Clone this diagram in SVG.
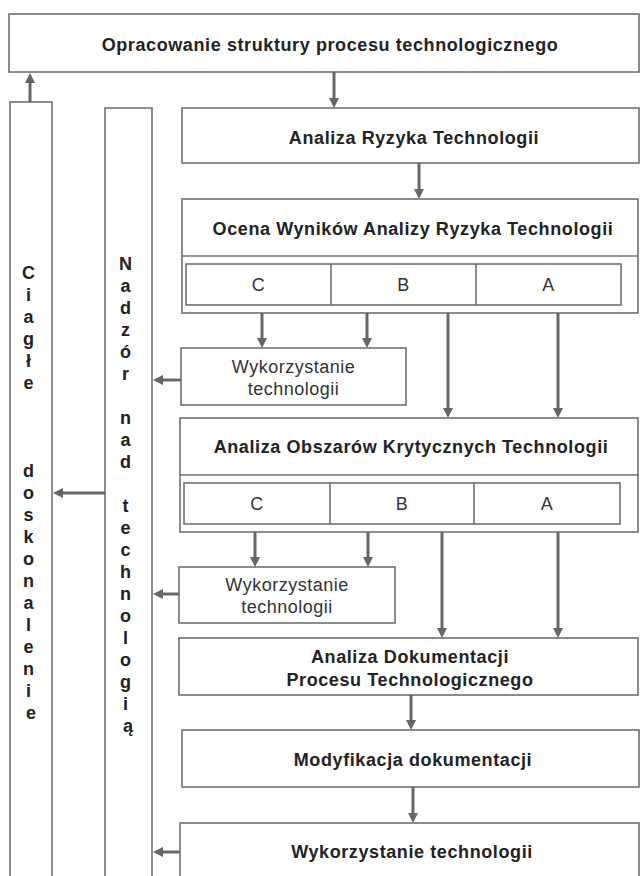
<svg xmlns="http://www.w3.org/2000/svg" width="640" height="876" viewBox="0 0 640 876">
  <style>
    .box { fill: #ffffff; stroke: #707070; stroke-width: 1.6; }
    .cell { fill: #ffffff; stroke: #707070; stroke-width: 1.6; }
    .title { font-family: "Liberation Sans", Arial, sans-serif; font-size: 18px; font-weight: bold; fill: #222222; text-anchor: middle; letter-spacing: 0.6px; }
    .plain { font-family: "Liberation Sans", Arial, sans-serif; font-size: 18px; fill: #333333; text-anchor: middle; letter-spacing: 0.5px; }
    .vert { font-family: "Liberation Sans", Arial, sans-serif; font-size: 18px; font-weight: bold; fill: #222222; text-anchor: middle; }
    .conn { fill: none; stroke: #666666; stroke-width: 3; marker-end: url(#head); }
  </style>
  <defs>
    <marker id="head" markerUnits="userSpaceOnUse" markerWidth="11" markerHeight="11" refX="6" refY="5" orient="auto">
      <path d="M0,0 L10,5 L0,10 z" fill="#666666"/>
    </marker>
  </defs>
  <rect width="640" height="876" fill="#ffffff"/>

  <!-- top process box -->
  <g id="struktura">
    <rect class="box" x="9" y="14" width="630" height="58"/>
    <text class="title" x="330" y="51">Opracowanie struktury procesu technologicznego</text>
  </g>

  <!-- left vertical column: continuous improvement -->
  <g id="doskonalenie">
    <rect class="box" x="10" y="102" width="42" height="790"/>
    <text class="vert">
      <tspan x="31" y="279">C</tspan>
      <tspan x="31" y="301">i</tspan>
      <tspan x="31" y="323">a</tspan>
      <tspan x="31" y="345">g</tspan>
      <tspan x="31" y="367">ł</tspan>
      <tspan x="31" y="389">e</tspan>
      <tspan x="31" y="477">d</tspan>
      <tspan x="31" y="499">o</tspan>
      <tspan x="31" y="521">s</tspan>
      <tspan x="31" y="543">k</tspan>
      <tspan x="31" y="565">o</tspan>
      <tspan x="31" y="587">n</tspan>
      <tspan x="31" y="609">a</tspan>
      <tspan x="31" y="631">l</tspan>
      <tspan x="31" y="653">e</tspan>
      <tspan x="31" y="675">n</tspan>
      <tspan x="31" y="697">i</tspan>
      <tspan x="31" y="719">e</tspan>
    </text>
  </g>

  <!-- second vertical column: supervision -->
  <g id="nadzor">
    <rect class="box" x="105" y="108" width="47" height="790"/>
    <text class="vert">
      <tspan x="128" y="269.5">N</tspan>
      <tspan x="128" y="291.5">a</tspan>
      <tspan x="128" y="313.5">d</tspan>
      <tspan x="128" y="335.5">z</tspan>
      <tspan x="128" y="357.5">ó</tspan>
      <tspan x="128" y="379.5">r</tspan>
      <tspan x="128" y="423.5">n</tspan>
      <tspan x="128" y="445.5">a</tspan>
      <tspan x="128" y="467.5">d</tspan>
      <tspan x="128" y="511.5">t</tspan>
      <tspan x="128" y="533.5">e</tspan>
      <tspan x="128" y="555.5">c</tspan>
      <tspan x="128" y="577.5">h</tspan>
      <tspan x="128" y="599.5">n</tspan>
      <tspan x="128" y="621.5">o</tspan>
      <tspan x="128" y="643.5">l</tspan>
      <tspan x="128" y="665.5">o</tspan>
      <tspan x="128" y="687.5">g</tspan>
      <tspan x="128" y="709.5">i</tspan>
      <tspan x="128" y="731.5">ą</tspan>
    </text>
  </g>

  <g id="analiza-ryzyka">
    <rect class="box" x="182" y="108" width="457" height="55"/>
    <text class="title" x="414" y="144">Analiza Ryzyka Technologii</text>
  </g>

  <g id="ocena">
    <rect class="box" x="182" y="199" width="456" height="114"/>
    <line x1="182" y1="256" x2="638" y2="256" stroke="#707070" stroke-width="1.6"/>
    <text class="title" x="413" y="235">Ocena Wyników Analizy Ryzyka Technologii</text>
    <rect class="cell" x="186" y="264" width="435" height="41"/>
    <line x1="331" y1="264" x2="331" y2="305" stroke="#707070" stroke-width="1.6"/>
    <line x1="476" y1="264" x2="476" y2="305" stroke="#707070" stroke-width="1.6"/>
    <text class="plain" x="258.5" y="291">C</text>
    <text class="plain" x="403.5" y="291">B</text>
    <text class="plain" x="548.5" y="291">A</text>
  </g>

  <g id="wykorzystanie-1">
    <rect class="box" x="181" y="348" width="225" height="57"/>
    <text class="plain" x="293.5" y="373">Wykorzystanie</text>
    <text class="plain" x="293.5" y="395">technologii</text>
  </g>

  <g id="obszary">
    <rect class="box" x="180" y="418" width="458" height="114"/>
    <line x1="180" y1="475" x2="638" y2="475" stroke="#707070" stroke-width="1.6"/>
    <text class="title" x="411" y="453">Analiza Obszarów Krytycznych Technologii</text>
    <rect class="cell" x="184" y="483" width="436" height="41"/>
    <line x1="330" y1="483" x2="330" y2="524" stroke="#707070" stroke-width="1.6"/>
    <line x1="474" y1="483" x2="474" y2="524" stroke="#707070" stroke-width="1.6"/>
    <text class="plain" x="257" y="510">C</text>
    <text class="plain" x="402" y="510">B</text>
    <text class="plain" x="547" y="510">A</text>
  </g>

  <g id="wykorzystanie-2">
    <rect class="box" x="179" y="567" width="216" height="56"/>
    <text class="plain" x="287" y="591">Wykorzystanie</text>
    <text class="plain" x="287" y="613">technologii</text>
  </g>

  <g id="dokumentacja">
    <rect class="box" x="179" y="638" width="459" height="57"/>
    <text class="title" x="410" y="663">Analiza Dokumentacji</text>
    <text class="title" x="410" y="686">Procesu Technologicznego</text>
  </g>

  <g id="modyfikacja">
    <rect class="box" x="182" y="730" width="457" height="57"/>
    <text class="title" x="413" y="766">Modyfikacja dokumentacji</text>
  </g>

  <g id="wykorzystanie-final">
    <rect class="box" x="180" y="823" width="459" height="70"/>
    <text class="title" x="412" y="858">Wykorzystanie technologii</text>
  </g>

  <!-- connectors -->
  <g id="connectors">
    <line class="conn" x1="334" y1="72" x2="334" y2="104"/>
    <line class="conn" x1="30" y1="102" x2="30" y2="77"/>
    <line class="conn" x1="419" y1="163" x2="419" y2="195"/>
    <line class="conn" x1="262" y1="313" x2="262" y2="344"/>
    <line class="conn" x1="367" y1="313" x2="367" y2="344"/>
    <line class="conn" x1="448" y1="313" x2="448" y2="414"/>
    <line class="conn" x1="558" y1="313" x2="558" y2="414"/>
    <line class="conn" x1="181" y1="380" x2="157" y2="380"/>
    <line class="conn" x1="105" y1="493" x2="57" y2="493"/>
    <line class="conn" x1="255" y1="532" x2="255" y2="563"/>
    <line class="conn" x1="368" y1="532" x2="368" y2="563"/>
    <line class="conn" x1="442" y1="532" x2="442" y2="634"/>
    <line class="conn" x1="558" y1="532" x2="558" y2="634"/>
    <line class="conn" x1="179" y1="594" x2="157" y2="594"/>
    <line class="conn" x1="411" y1="695" x2="411" y2="726"/>
    <line class="conn" x1="413" y1="787" x2="413" y2="819"/>
    <line class="conn" x1="180" y1="852" x2="157" y2="852"/>
  </g>
</svg>
